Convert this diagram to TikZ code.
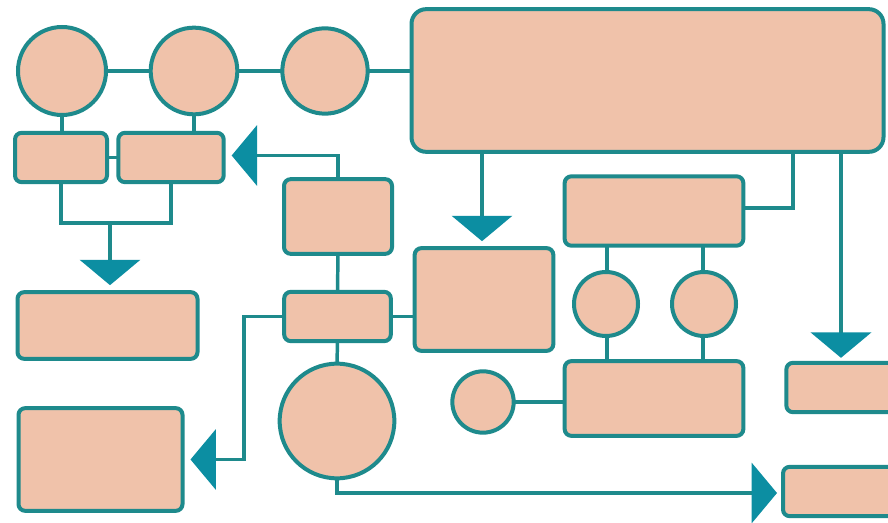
\documentclass[tikz,border=0pt]{standalone}
\usetikzlibrary{arrows.meta,calc}
\definecolor{peach}{RGB}{240,194,170}
\definecolor{tealline}{RGB}{30,138,140}
\definecolor{tealarrow}{RGB}{12,142,162}
\tikzset{
  shapebox/.style={draw=tealline,fill=peach,line width=3pt,rectangle,rounded corners=5pt,inner sep=0pt,outer sep=0pt},
  bigbox/.style={shapebox,rounded corners=11pt},
  roundnode/.style={draw=tealline,fill=peach,line width=3pt,circle,inner sep=0pt,outer sep=0pt},
  conn/.style={draw=tealline,line width=2.6pt},
  arr/.style={conn,-{Triangle[width=45pt,length=19pt,color=tealarrow]}}
}
\begin{document}
\begin{tikzpicture}[x=0.75pt,y=-0.75pt]
\useasboundingbox (0,0) rectangle (888,523);
\clip (0,0) rectangle (888,523);
\fill[white] (0,0) rectangle (888,523);
% nodes
\node[roundnode,minimum size=66pt] (c1) at (62,71) {};
\node[roundnode,minimum size=65pt] (c2) at (194,71) {};
\node[roundnode,minimum size=64pt] (c3) at (325,71) {};
\node[bigbox,minimum width=354pt,minimum height=107pt] (big) at (647.5,80.5) {};
\node[shapebox,minimum width=69pt,minimum height=37pt] (A) at (61,157.5) {};
\node[shapebox,minimum width=79pt,minimum height=37pt] (B) at (171,157.5) {};
\node[shapebox,minimum width=81pt,minimum height=56pt] (C) at (338,216.5) {};
\node[shapebox,minimum width=80pt,minimum height=37pt] (D) at (337.5,316.5) {};
\node[shapebox,minimum width=135pt,minimum height=50pt] (E) at (107.5,325.5) {};
\node[shapebox,minimum width=123pt,minimum height=77pt] (F) at (100.5,459.5) {};
\node[roundnode,minimum size=86pt] (G) at (337,421) {};
\node[shapebox,minimum width=104pt,minimum height=77pt] (H) at (484,299.5) {};
\node[shapebox,minimum width=134pt,minimum height=52pt] (I) at (654,211) {};
\node[roundnode,minimum size=48pt] (J) at (606,304) {};
\node[roundnode,minimum size=48pt] (K) at (704,304) {};
\node[shapebox,minimum width=134pt,minimum height=56pt] (L) at (654,398.5) {};
\node[roundnode,minimum size=46pt] (M) at (483,402) {};
\node[shapebox,minimum width=88pt,minimum height=37pt] (N) at (845,387.5) {};
\node[shapebox,minimum width=90pt,minimum height=37pt] (O) at (843,491.5) {};
\coordinate (j) at (110,223);
\coordinate (bI) at (793,153);
\coordinate (bN) at (841,153);
% connectors
\draw[conn] (c1.east) -- (c2.west);
\draw[conn] (c2.east) -- (c3.west);
\draw[conn] (c3.east) -- (c3.east -| big.west);
\draw[conn] (c1.south) -- (c1.south |- A.north);
\draw[conn] (c2.south) -- (c2.south |- B.north);
\draw[conn] (A.east) -- (B.west);
\draw[conn] (A.south) -- (A.south |- j) -- (B.south |- j) -- (B.south);
\draw[arr] (j) -- ($(j |- E.north)+(0,-7)$);
\draw[arr] (C.north) |- ($(B.east)+(8,-2)$);
\draw[conn] (C.south) -- (D.north);
\draw[conn] (D.south) -- (G.north);
\draw[conn] (D.east) -- (D.east -| H.west);
\draw[arr] (D.west) -- ++(-40,0) |- ($(F.east)+(8,0)$);
\draw[arr] (G.south) |- ($(O.west)+(-6,1.5)$);
\draw[arr] (big.south -| 482,0) -- ($(H.north -| 482,0)+(0,-7)$);
\draw[conn] (bI) |- ($(I.east)+(0,-3)$);
\draw[arr] (bN) -- ($(bN |- N.north)+(0,-5)$);
\draw[conn] (J.north -| 607,0) -- (I.south -| 607,0);
\draw[conn] (K.north -| 703,0) -- (I.south -| 703,0);
\draw[conn] (J.south -| 607,0) -- (L.north -| 607,0);
\draw[conn] (K.south -| 703,0) -- (L.north -| 703,0);
\draw[conn] (M.east) -- (M.east -| L.west);
\end{tikzpicture}
\end{document}
